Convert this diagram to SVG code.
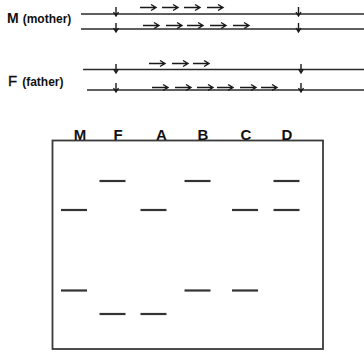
<svg xmlns="http://www.w3.org/2000/svg" xmlns:xlink="http://www.w3.org/1999/xlink" width="364" height="352" viewBox="0 0 364 352">
<style>
.dna{stroke:#2a2a2a;stroke-width:1.7;fill:none}
.ar{stroke:#1a1a1a;stroke-width:1.4;fill:none}
.band{stroke:#333;stroke-width:2.2}
.gel{fill:#fff;stroke:#3a3a3a;stroke-width:1.8}
.lbl{font-family:"Liberation Sans",Arial,sans-serif;fill:#111}
.big{font-size:14px;font-weight:bold}
.small{font-size:12px;font-weight:bold}
.lane{font-family:"Liberation Sans",Arial,sans-serif;font-size:15px;font-weight:bold;fill:#111;text-anchor:middle}
</style>
<defs>
<path id="ra" class="ar" d="M0,0 H16 M11,-3 L16,0 L11,3"/>
<path id="da" class="ar" d="M0,0 V9 M-2.5,5 L0,9 L2.5,5"/>
</defs>
<g id="mother">
<text class="lbl" x="7" y="23"><tspan class="big">M</tspan><tspan class="small" dx="4">(mother)</tspan></text>
<line class="dna" x1="81" y1="14" x2="364" y2="14"/>
<line class="dna" x1="81" y1="29" x2="364" y2="29"/>
<use xlink:href="#da" x="116" y="7"/>
<use xlink:href="#da" x="298.5" y="7"/>
<use xlink:href="#da" x="116" y="23"/>
<use xlink:href="#da" x="298.5" y="23"/>
<use xlink:href="#ra" x="140" y="7.5"/>
<use xlink:href="#ra" x="162" y="7.5"/>
<use xlink:href="#ra" x="184" y="7.5"/>
<use xlink:href="#ra" x="207" y="7.5"/>
<use xlink:href="#ra" x="143" y="25.5"/>
<use xlink:href="#ra" x="166" y="25.5"/>
<use xlink:href="#ra" x="187" y="25.5"/>
<use xlink:href="#ra" x="210" y="25.5"/>
<use xlink:href="#ra" x="233" y="25.5"/>
</g>
<g id="father">
<text class="lbl" x="8" y="86"><tspan style="font-size:15px;font-weight:normal;stroke:#111;stroke-width:0.4">F</tspan><tspan class="small" dx="5">(father)</tspan></text>
<line class="dna" x1="83" y1="69.5" x2="364" y2="69.5"/>
<line class="dna" x1="87" y1="90" x2="364" y2="90"/>
<use xlink:href="#da" x="116" y="64"/>
<use xlink:href="#da" x="301" y="64"/>
<use xlink:href="#da" x="116" y="83"/>
<use xlink:href="#da" x="301" y="83"/>
<use xlink:href="#ra" x="149" y="63.5"/>
<use xlink:href="#ra" x="172" y="63.5"/>
<use xlink:href="#ra" x="193" y="63.5"/>
<use xlink:href="#ra" x="152" y="87.5"/>
<use xlink:href="#ra" x="175" y="87.5"/>
<use xlink:href="#ra" x="197" y="87.5"/>
<use xlink:href="#ra" x="217" y="87.5"/>
<use xlink:href="#ra" x="240" y="87.5"/>
<use xlink:href="#ra" x="261" y="87.5"/>
</g>
<g id="gel">
<rect class="gel" x="52.5" y="140.5" width="270.5" height="208.5"/>
</g>
<g id="lanes">
<text class="lane" x="80" y="140">M</text>
<text class="lane" x="118" y="140">F</text>
<text class="lane" x="161.5" y="140">A</text>
<text class="lane" x="203" y="140">B</text>
<text class="lane" x="246" y="140">C</text>
<text class="lane" x="287" y="140">D</text>
</g>
<g id="bands">
<line class="band" x1="99.5" y1="181" x2="125.5" y2="181"/>
<line class="band" x1="184.5" y1="181" x2="210.5" y2="181"/>
<line class="band" x1="273.5" y1="181" x2="299.5" y2="181"/>
<line class="band" x1="61" y1="210" x2="87" y2="210"/>
<line class="band" x1="140.5" y1="210" x2="166.5" y2="210"/>
<line class="band" x1="232" y1="210" x2="258" y2="210"/>
<line class="band" x1="273.5" y1="210" x2="299.5" y2="210"/>
<line class="band" x1="61" y1="290.5" x2="87" y2="290.5"/>
<line class="band" x1="184.5" y1="290.5" x2="210.5" y2="290.5"/>
<line class="band" x1="232" y1="290.5" x2="258" y2="290.5"/>
<line class="band" x1="99.5" y1="314" x2="125.5" y2="314"/>
<line class="band" x1="140.5" y1="314" x2="166.5" y2="314"/>
</g>
</svg>
